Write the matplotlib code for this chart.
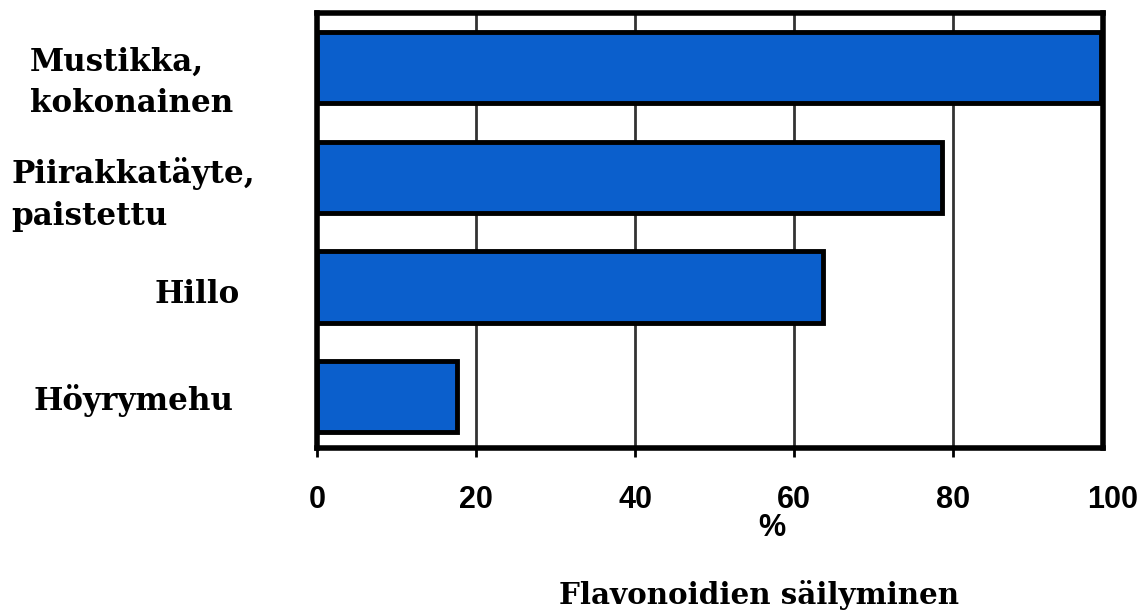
import matplotlib
matplotlib.use("Agg")
import matplotlib.pyplot as plt
import matplotlib.transforms as mtransforms

categories = ["Mustikka,\nkokonainen", "Piirakkatäyte,\npaistettu", "Hillo", "Höyrymehu"]
values = [98.5, 78.6, 63.6, 17.6]
xticks = [0, 20, 40, 60, 80]
extra_tick = 100
xlabel = "Flavonoidien säilyminen"
unit = "%"

fig = plt.figure(figsize=(11.48, 6.13), dpi=100)
ax = fig.add_axes([0.2761, 0.2692, 0.6847, 0.7096])

ypos = list(range(len(categories)))[::-1]
ax.barh(ypos, values, height=0.65, color="#0b5fcc", edgecolor="black", linewidth=3.5, zorder=3)

tick_len = 6.5
tick_pad = 20
tick_font = dict(fontfamily="Liberation Sans", fontweight="bold", fontsize=22)

ax.set_xlim(0, 98.8)
ax.set_ylim(-0.47, 3.5)
ax.set_xticks(xticks)
ax.set_xticklabels([str(t) for t in xticks], **tick_font)
ax.tick_params(axis="x", direction="out", length=tick_len, width=2, pad=tick_pad)
ax.set_yticks([])
for t in xticks[1:]:
    ax.axvline(t, color="#333333", linewidth=2, zorder=1)
for s in ax.spines.values():
    s.set_linewidth(4)
    s.set_color("black")

trans, va, ha = ax.get_xaxis_text1_transform(tick_len + tick_pad)
ax.text(extra_tick, 0, str(extra_tick), transform=trans, ha="center", va=va,
        clip_on=False, **tick_font)

blend = mtransforms.blended_transform_factory(ax.transData, ax.transAxes)
ax.text(57.2, -0.15, unit, transform=blend, ha="center", va="top", **tick_font)
fig.text(0.661, 0.03, xlabel, ha="center", va="center",
         fontfamily="DejaVu Serif", fontweight="bold", fontsize=21.2)

ylab = mtransforms.blended_transform_factory(fig.transFigure, ax.transData)
label_x = [(0.026, "left"), (0.010, "left"), (0.209, "right"), (0.203, "right")]
label_dy = [-0.136, -0.155, -0.07, -0.04]
for (x, ha_), y, dy, lab in zip(label_x, ypos, label_dy, categories):
    fig.text(x, y + dy, lab, transform=ylab, ha=ha_, va="center", multialignment="left",
             fontfamily="DejaVu Serif", fontweight="bold", fontsize=22.3, linespacing=1.45)

fig.savefig("out.png", dpi=100)
